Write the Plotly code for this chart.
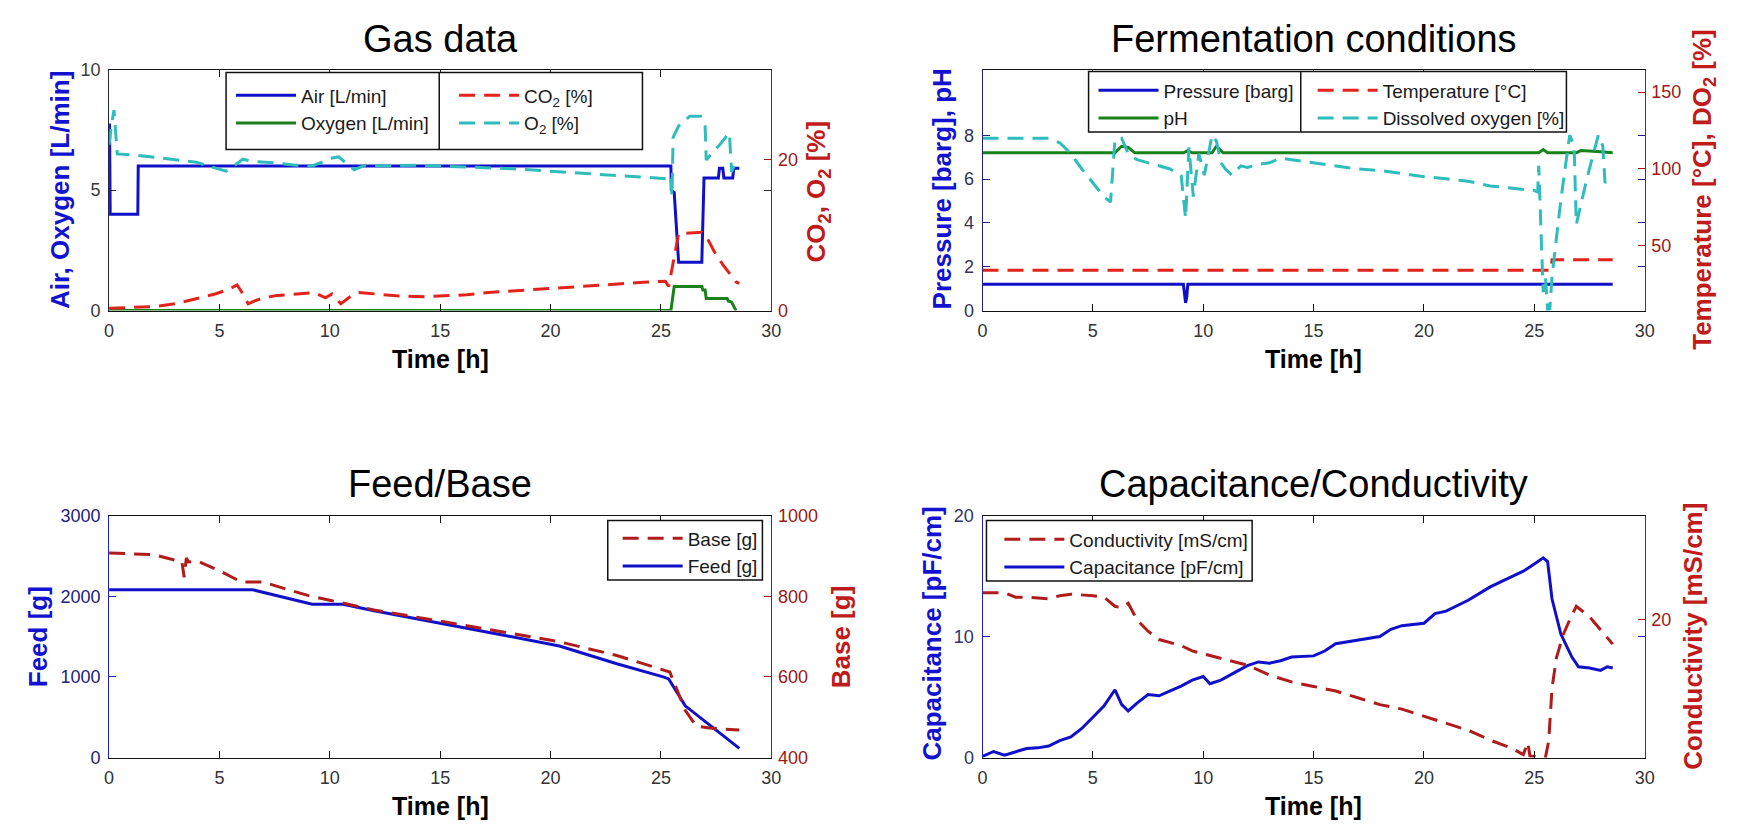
import plotly.graph_objects as go

# ---------------- data ----------------
# Panel 1: Gas data
air_t = [0, 0.02, 0.05, 1.3, 1.32, 25.45, 25.47, 25.6, 25.8, 26.85, 26.95, 27.6, 27.65, 27.8, 27.85, 28.25, 28.3, 28.55]
air_v = [7.7, 7.7, 4.0, 4.0, 6.0, 6.0, 5.0, 4.9, 2.0, 2.0, 5.5, 5.5, 5.9, 5.9, 5.5, 5.5, 5.9, 5.9]
oxy_t = [0, 25.45, 25.6, 26.85, 26.9, 27.0, 27.05, 28.0, 28.05, 28.2, 28.4]
oxy_v = [0, 0, 1.0, 1.0, 0.85, 0.85, 0.5, 0.5, 0.4, 0.35, 0.0]
co2_t = [0, 1.0, 2.1, 3.0, 3.6, 4.2, 4.8, 5.4, 5.8, 6.0, 6.3, 6.6, 7.0, 7.6, 8.3, 9.3, 9.8, 10.1, 10.5,
         10.9, 11.3, 12.3, 13.3, 14.3, 15.2, 16.2, 17.2, 18.2, 19.2, 20.2, 21.2, 22.2, 23.2, 24.2, 25.2,
         25.35, 25.6, 25.8, 26.3, 26.85, 27.1, 27.4, 27.8, 28.1, 28.4, 28.55]
co2_v = [0.3, 0.4, 0.55, 0.9, 1.3, 1.7, 2.2, 2.8, 3.4, 2.5, 0.9, 1.3, 1.7, 2.0, 2.2, 2.4, 1.7, 2.2, 0.9,
         1.8, 2.4, 2.2, 1.9, 1.85, 2.0, 2.1, 2.4, 2.6, 2.8, 3.0, 3.2, 3.4, 3.6, 3.75, 3.9,
         3.2, 7.1, 10.2, 10.3, 10.4, 9.6, 7.9, 6.1, 5.0, 3.8, 3.6]
o2_t = [0, 0.1, 0.22, 0.37, 1.3, 2.5, 3.95, 4.6, 5.3, 5.7, 6.06, 6.5, 7.5, 8.45, 9.2, 9.65, 10.0, 10.4,
        10.8, 11.1, 11.6, 12.5, 14.0, 15.5, 17.0, 18.5, 20.0, 21.5, 23.0, 24.5, 25.3, 25.45, 25.5, 25.55,
        25.8, 26.3, 26.8, 27.0, 27.05, 27.6, 28.1, 28.2, 28.35, 28.55]
o2_v = [22.0, 24.5, 26.6, 20.8, 20.6, 20.2, 19.7, 19.1, 18.5, 19.3, 20.1, 19.8, 19.6, 19.3, 19.2, 19.7, 20.2, 20.4,
        19.4, 18.7, 19.3, 19.2, 19.3, 19.1, 19.0, 18.8, 18.5, 18.2, 17.9, 17.6, 17.5, 17.9, 15.2, 23.0,
        24.5, 25.8, 25.8, 24.5, 20.0, 21.8, 23.6, 18.4, 19.5, 19.3]

# Panel 2: Fermentation conditions
press_t = [0, 9.1, 9.2, 9.25, 9.3, 28.55]
press_v = [1.2, 1.2, 0.35, 0.6, 1.2, 1.2]
ph_t = [0, 6.0, 6.3, 6.6, 6.9, 9.1, 9.3, 9.5, 10.4, 10.6, 10.9, 25.2, 25.4, 25.6, 26.9, 27.1, 28.0, 28.55]
ph_v = [7.2, 7.2, 7.5, 7.45, 7.2, 7.2, 7.3, 7.2, 7.2, 7.5, 7.2, 7.2, 7.35, 7.2, 7.2, 7.3, 7.25, 7.2]
temp_t = [0, 25.75, 25.8, 28.55]
temp_v = [34.2, 34.2, 41.0, 41.0]
do_t = [0, 3.0, 3.5, 4.0, 4.5, 5.0, 5.5, 5.8, 6.0, 6.3, 6.6, 7.0, 7.5, 8.0, 8.5, 9.0, 9.2, 9.35, 9.55,
        9.8, 10.05, 10.4, 10.6, 10.8, 11.0, 11.3, 11.7, 12.0, 12.5, 13.0, 13.5, 14.0, 15.0, 16.0, 17.0,
        18.0, 19.0, 20.0, 21.0, 22.0, 23.0, 24.0, 25.0, 25.15, 25.2, 25.3, 25.4, 25.5, 25.6, 25.7, 25.8,
        26.2, 26.6, 26.8, 26.9, 27.4, 27.9, 28.1, 28.2, 28.47]
do_v = [120, 120, 117, 110, 100, 91, 82, 78.5, 119, 120, 110, 106, 104, 102, 100, 95.7, 68, 114, 82,
        110, 96, 122, 118, 104, 100, 96, 102, 101, 103, 104, 107, 106, 104, 102, 100,
        99, 97, 95, 93.6, 92, 89, 87.7, 86, 85, 102, 60, 20, 30, 8.5, 9, 30,
        80, 122, 115, 64, 95, 122, 115, 91, 95]

# Panel 3: Feed/Base
feed_t = [0, 6.5, 9.2, 10.6, 12.0, 15.0, 18.0, 20.4, 23.0, 25.1, 25.35, 26.1, 27.2, 28.55]
feed_v = [2080, 2080, 1900, 1900, 1820, 1667, 1510, 1382, 1163, 1000, 975, 641, 400, 113]
base_t = [0, 2.0, 3.3, 3.4, 3.5, 3.6, 4.0, 5.0, 6.0, 7.0, 8.0, 9.0, 10.0, 12.0, 15.0, 18.0, 20.4,
          23.0, 25.2, 25.4, 26.1, 26.6, 27.2, 28.55]
base_v = [907, 903, 885, 847, 895, 885, 887, 863, 835, 835, 818, 802, 790, 766, 738, 710, 687,
          653, 614, 612, 517, 478, 473, 468]

# Panel 4: Capacitance/Conductivity
cap_t = [0, 0.5, 1.0, 1.5, 2.0, 2.5, 3.0, 3.5, 4.0, 4.5, 5.0, 5.5, 6.0, 6.3, 6.6, 7.0, 7.5, 8.0, 8.5,
         9.0, 9.5, 10.0, 10.3, 10.8, 11.5, 12.0, 12.5, 13.0, 13.5, 14.0, 15.0, 15.5, 16.0, 17.0, 18.0,
         18.5, 19.0, 20.0, 20.5, 21.0, 22.0, 23.0, 24.0, 24.5, 25.0, 25.4, 25.6, 25.8, 26.2, 26.7,
         27.0, 27.5, 28.0, 28.3, 28.55]
cap_v = [0.1, 0.5, 0.2, 0.5, 0.75, 0.8, 0.95, 1.4, 1.7, 2.4, 3.3, 4.25, 5.6, 4.4, 3.85, 4.5, 5.2, 5.1, 5.5,
         5.9, 6.4, 6.7, 6.1, 6.4, 7.1, 7.6, 7.9, 7.8, 8.0, 8.3, 8.4, 8.8, 9.4, 9.7, 10.0,
         10.6, 10.9, 11.1, 11.9, 12.1, 13.0, 14.1, 15.0, 15.4, 16.0, 16.5, 16.2, 13.1, 10.2, 8.3,
         7.5, 7.4, 7.2, 7.5, 7.4]
cond_t = [0, 1.0, 1.5, 2.0, 3.0, 3.5, 4.0, 5.0, 5.5, 6.0, 6.3, 6.6, 7.0, 7.5, 8.0, 9.0, 9.5, 10.0, 11.0,
          12.0, 13.0, 14.0, 15.0, 16.0, 17.0, 18.0, 19.0, 20.0, 21.0, 22.0, 23.0, 24.0, 24.5, 24.7, 24.8,
          25.5, 25.65, 25.8, 26.0, 26.3, 26.6, 26.9, 27.5, 28.0, 28.55]
cond_v = [21.8, 21.8, 21.5, 21.5, 21.4, 21.6, 21.7, 21.6, 21.5, 20.9, 20.8, 21.1, 20.0, 19.25, 18.7, 18.3, 17.95, 17.75, 17.4,
          17.0, 16.35, 15.9, 15.6, 15.3, 14.85, 14.4, 14.1, 13.65, 13.2, 12.7, 12.05, 11.5, 11.1, 11.9, 11.0,
          10.9, 12.0, 15.5, 17.5, 19.0, 20.0, 20.9, 20.2, 19.35, 18.4]

x_ticks = [0, 5, 10, 15, 20, 25, 30]

# ---------------- styling ----------------
W, H = 1740, 830
FONT = "Liberation Sans, Arial, Helvetica, sans-serif"
BLUE = "#1010c8"
GREEN = "#1a801a"
RED = "#e2231c"
DRED = "#b01c1c"
CYAN = "#2fbcbc"
AX_RED = "#9a1a1a"
TITLE_BLUE = "#1212d0"
TITLE_RED = "#c01a1a"
DASH = "16px,9px"


def fx(p):
    return p / W


def fy(p):
    return 1 - p / H


fig = go.Figure()


def add(t, v, name, color, xa, ya, legend, rank, dash=None, width=3):
    fig.add_trace(go.Scatter(
        x=t, y=v, name=name, mode="lines", xaxis=xa, yaxis=ya,
        line=dict(color=color, width=width, dash=dash),
        legend=legend, legendrank=rank, legendgroup=name, hoverinfo="skip"))


add(air_t, air_v, "Air [L/min]", BLUE, "x", "y", "legend", 1)
add(oxy_t, oxy_v, "Oxygen [L/min]", GREEN, "x", "y", "legend", 2)
add(co2_t, co2_v, "CO<sub>2</sub> [%]", RED, "x", "y2", "legend2", 1, DASH)
add(o2_t, o2_v, "O<sub>2</sub> [%]", CYAN, "x", "y2", "legend2", 2, DASH)

add(press_t, press_v, "Pressure [barg]", BLUE, "x2", "y3", "legend3", 1)
add(ph_t, ph_v, "pH", GREEN, "x2", "y3", "legend3", 2)
add(temp_t, temp_v, "Temperature [°C]", RED, "x2", "y4", "legend4", 1, DASH)
add(do_t, do_v, "Dissolved oxygen [%]", CYAN, "x2", "y4", "legend4", 2, DASH)

add(feed_t, feed_v, "Feed [g]", BLUE, "x3", "y5", "legend5", 2)
add(base_t, base_v, "Base [g]", DRED, "x3", "y6", "legend5", 1, DASH)

add(cap_t, cap_v, "Capacitance [pF/cm]", BLUE, "x4", "y7", "legend6", 2)
add(cond_t, cond_v, "Conductivity [mS/cm]", DRED, "x4", "y8", "legend6", 1, DASH)

# panel rectangles in pixels: (left, right, top, bottom)
panels = {
    1: (105, 773, 61, 308),
    2: (986, 1654, 61, 308),
    3: (105, 773, 518, 766),
    4: (986, 1654, 518, 766),
}

tickfont = dict(family=FONT, size=18, color="#333333")


def xaxis(p, anchor):
    l, r, t, b = panels[p]
    return dict(domain=[fx(l), fx(r)], anchor=anchor, range=[0, 30], tickvals=x_ticks,
                showgrid=False, zeroline=False, showline=True, linecolor="#111111", linewidth=1,
                mirror="ticks", ticks="inside", ticklen=7, tickcolor="#111111",
                tickfont=tickfont, ticklabelstandoff=4)


def yleft(p, anchor, rng, tv, lc, tc):
    l, r, t, b = panels[p]
    return dict(domain=[fy(b), fy(t)], anchor=anchor, range=rng, tickvals=tv,
                showgrid=False, zeroline=False, showline=True, linecolor=lc, linewidth=1,
                mirror="ticks", ticks="inside", ticklen=7, tickcolor=lc,
                tickfont=dict(family=FONT, size=18, color=tc), ticklabelstandoff=4)


def yright(anchor, over, rng, tv):
    return dict(overlaying=over, anchor=anchor, side="right", range=rng, tickvals=tv,
                showgrid=False, zeroline=False, showline=True, linecolor=AX_RED, linewidth=1,
                ticks="inside", ticklen=7, tickcolor=AX_RED,
                tickfont=dict(family=FONT, size=18, color=AX_RED), ticklabelstandoff=2)


legend_common = dict(bgcolor="rgba(0,0,0,0)", borderwidth=0, itemwidth=60,
                     font=dict(family=FONT, size=19, color="#1a1a1a"),
                     xanchor="left", yanchor="top", itemclick=False, itemdoubleclick=False,
                     orientation="v", valign="middle")


def leg(xpix, ypix, gap=0):
    d = dict(legend_common)
    d.update(x=fx(xpix), y=fy(ypix), tracegroupgap=gap, traceorder="normal")
    return d


shapes = []


def box(l, t, r, b, div=None):
    shapes.append(dict(type="rect", xref="paper", yref="paper", x0=fx(l), x1=fx(r), y0=fy(b), y1=fy(t),
                       line=dict(color="#111111", width=1.5), fillcolor="white", layer="above"))
    if div is not None:
        shapes.append(dict(type="line", xref="paper", yref="paper", x0=fx(div), x1=fx(div), y0=fy(b), y1=fy(t),
                           line=dict(color="#111111", width=1.5), layer="above"))


box(223, 64, 643, 143, 438)
box(1093, 63, 1575, 125, 1307)
box(608, 523, 764, 584)
box(990, 523, 1258, 585)

annotations = []


def text(s, xp, yp, size, color, bold=False, angle=0):
    annotations.append(dict(text=("<b>%s</b>" % s) if bold else s, x=fx(xp), y=fy(yp), xref="paper", yref="paper",
                            xanchor="center", yanchor="middle", showarrow=False, textangle=angle,
                            font=dict(family=FONT, size=size, color=color)))


# panel titles
text("Gas data", 439, 30, 38, "#000000")
text("Fermentation conditions", 1320, 30, 38, "#000000")
text("Feed/Base", 439, 486, 38, "#000000")
text("Capacitance/Conductivity", 1320, 486, 38, "#000000")
# x titles
for p in panels:
    l, r, t, b = panels[p]
    text("Time [h]", (l + r) / 2, b + 50, 25, "#000000", bold=True)
# y titles
text("Air, Oxygen [L/min]", 55, 185, 26, TITLE_BLUE, True, -90)
text("CO<sub>2</sub>, O<sub>2</sub> [%]", 820, 186, 26, TITLE_RED, True, -90)
text("Pressure [barg], pH", 945, 183, 26, TITLE_BLUE, True, -90)
text("Temperature [°C], DO<sub>2</sub> [%]", 1713, 184, 26, TITLE_RED, True, -90)
text("Feed [g]", 33, 642, 26, TITLE_BLUE, True, -90)
text("Base [g]", 843, 642, 26, TITLE_RED, True, -90)
text("Capacitance [pF/cm]", 935, 639, 26, TITLE_BLUE, True, -90)
text("Conductivity [mS/cm]", 1702, 642, 26, TITLE_RED, True, -90)

fig.update_layout(
    width=W, height=H, margin=dict(l=0, r=0, t=0, b=0),
    paper_bgcolor="white", plot_bgcolor="white",
    font=dict(family=FONT),
    showlegend=True,
    xaxis=xaxis(1, "y"),
    yaxis=yleft(1, "x", [0, 10], [0, 5, 10], "#222244", "#3a3a3a"),
    yaxis2=yright("x", "y", [0, 32], [0, 20]),
    xaxis2=xaxis(2, "y3"),
    yaxis3=yleft(2, "x2", [0, 11], [0, 2, 4, 6, 8], "#202080", "#333355"),
    yaxis4=yright("x2", "y3", [8, 164.6], [50, 100, 150]),
    xaxis3=xaxis(3, "y5"),
    yaxis5=yleft(3, "x3", [0, 3000], [0, 1000, 2000, 3000], "#2020c0", "#22227a"),
    yaxis6=yright("x3", "y5", [400, 1000], [400, 600, 800, 1000]),
    xaxis4=xaxis(4, "y7"),
    yaxis7=yleft(4, "x4", [0, 20], [0, 10, 20], "#2020c0", "#333366"),
    yaxis8=yright("x4", "y7", [10.9, 26.9], [20]),
    legend=leg(228, 68, 7),
    legend2=leg(453, 68, 7),
    legend3=leg(1098, 63),
    legend4=leg(1319, 63),
    legend5=leg(618, 522),
    legend6=leg(1003, 523),
    shapes=shapes,
    annotations=annotations,
)

fig.write_html("out.html")
